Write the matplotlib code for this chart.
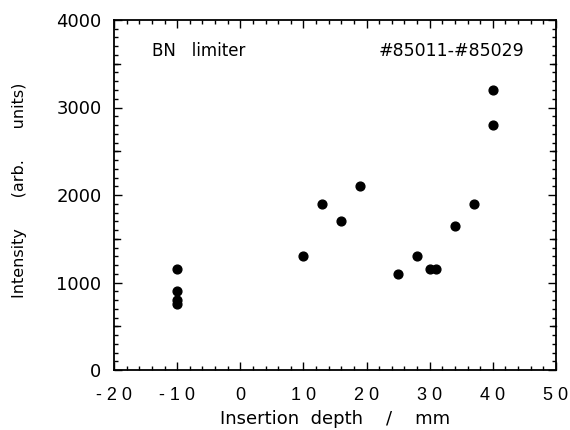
import matplotlib
matplotlib.use("Agg")

import matplotlib.pyplot as plt
from matplotlib.ticker import MultipleLocator

plt.rcParams["font.family"] = ["DejaVu Sans"]
plt.rcParams["axes.unicode_minus"] = False

# -- Data ---------------------------------------------------------------------
depth_mm = [-10, -10, -10, -10, 10, 13, 16, 19, 25, 28, 30, 31, 34, 37, 40, 40]
intensity = [1150, 900, 800, 750, 1300, 1900, 1700, 2100, 1100, 1300,
             1150, 1150, 1650, 1900, 2800, 3200]

x_ticks = [-20, -10, 0, 10, 20, 30, 40, 50]
x_ticklabels = ["- 2 0", "- 1 0", "0", "1 0", "2 0", "3 0", "4 0", "5 0"]
y_ticks = [0, 1000, 2000, 3000, 4000]
y_ticklabels = ["0", "1000", "2000", "3000", "4000"]

# -- Plot ---------------------------------------------------------------------
fig = plt.figure(figsize=(5.7, 4.3), dpi=100)
ax = fig.add_axes([0.2, 0.1395, 0.7754, 0.814])

ax.scatter(depth_mm, intensity, s=40, color="black", zorder=3)

ax.set_xlim(-20, 50)
ax.set_ylim(0, 4000)
ax.set_xticks(x_ticks)
ax.set_xticklabels(x_ticklabels, family="Liberation Sans", fontsize=13)
ax.set_yticks(y_ticks)
ax.set_yticklabels(y_ticklabels, fontsize=13)
ax.xaxis.set_minor_locator(MultipleLocator(2))
ax.yaxis.set_minor_locator(MultipleLocator(100))

ax.tick_params(which="both", direction="in", top=True, right=True,
               width=1, color="black")
ax.tick_params(which="major", length=6)
ax.tick_params(axis="x", which="major", pad=12)
ax.tick_params(axis="y", which="major", pad=9)
ax.tick_params(which="minor", length=3)
for sp in ax.spines.values():
    sp.set_linewidth(1.3)

# longer ticks at the half-thousands on the y axis
for yv in [500, 1500, 2500, 3500]:
    ax.plot([-20, -19.0], [yv, yv], color="black", lw=1, clip_on=False)
    ax.plot([49.0, 50], [yv, yv], color="black", lw=1, clip_on=False)

ax.set_xlabel("Insertion  depth    /    mm", fontsize=13)
ax.xaxis.set_label_coords(0.5, -0.115)
ax.set_ylabel("Intensity      (arb.      units)", fontsize=11.5)
ax.yaxis.set_label_coords(-0.197, 0.514)

ax.text(-14, 3650, "BN   limiter", fontsize=12, va="center", ha="left")
ax.text(45, 3650, "#85011-#85029", fontsize=12.5, va="center", ha="right")

fig.savefig("out.png", dpi=100, facecolor="white")
plt.close(fig)
